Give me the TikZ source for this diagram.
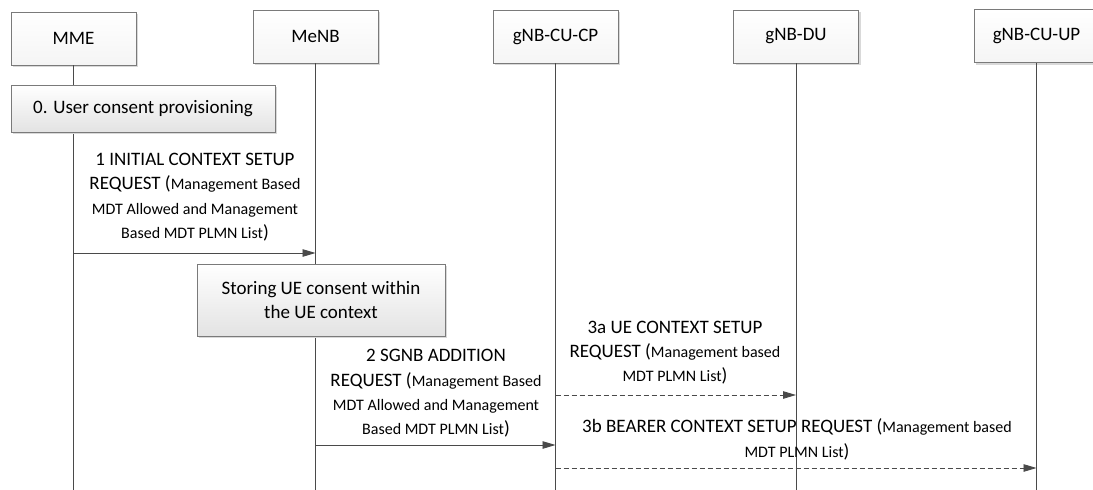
\documentclass[tikz,border=0pt]{standalone}
\usepackage{fontspec}
\setmainfont{Carlito}
\usetikzlibrary{arrows.meta,shadows}
\newcommand\bigf{\fontsize{19}{24.3}\selectfont}
\newcommand\smf{\fontsize{16}{24.3}\selectfont}
\definecolor{ln}{HTML}{4A4A4A}
\definecolor{bd}{HTML}{7A7A7A}
\begin{document}
\begin{tikzpicture}[x=1pt,y=-1pt,
  hdr/.style={draw=bd, line width=0.8pt, top color=white, bottom color=gray!8,
    drop shadow={shadow xshift=2pt,shadow yshift=-2pt,fill=gray!30,opacity=1},
    minimum width=125pt, minimum height=53pt, inner sep=0pt, font=\bigf},
  proc/.style={hdr, bottom color=gray!22},
  life/.style={draw=ln, line width=0.9pt},
  msg/.style={draw=ln, line width=0.9pt, -{Triangle[length=13pt,width=7.5pt]}},
  dmsg/.style={msg, dash pattern=on 5pt off 3pt},
  lbl/.style={align=center, font=\bigf, inner sep=0pt}]
\useasboundingbox (0,0) rectangle (1093,490);
\fill[white] (0,0) rectangle (1093,490);
% headers
\node[hdr] (mme)  at (73.5,38.5) {MME};
\node[hdr] (menb) at (315.5,36.5) {MeNB};
\node[hdr] (cp)   at (555.5,36.5) {gNB-CU-CP};
\node[hdr] (du)   at (796,36.5) {gNB-DU};
\node[hdr] (up)   at (1036.5,36) {gNB-CU-UP};
\coordinate (bot) at (0,490);
% lifelines
\draw[life] (mme.south) -- (mme.south |- bot);
\draw[life] (menb.south) -- (menb.south |- bot);
\draw[life] (cp.south) -- (cp.south |- bot);
\draw[life] (du.south) -- (du.south |- bot);
\draw[life] (up.south) -- (up.south |- bot);
% process boxes
\node[proc, minimum width=264pt, minimum height=47pt] (p0) at (143,108.5) {0. User consent provisioning};
\node[proc, minimum width=248pt, minimum height=72pt, align=center] (p1) at (321,300) {Storing UE consent within\\the UE context};
% message rows
\coordinate (y1) at (0,253);
\coordinate (y2) at (0,445);
\coordinate (y3a) at (0,395);
\coordinate (y3b) at (0,468);
\draw[msg] (mme |- y1) -- (menb |- y1);
\draw[msg] (menb |- y2) -- (cp |- y2);
\draw[dmsg] (cp |- y3a) -- (du |- y3a);
\draw[dmsg] (cp |- y3b) -- (up |- y3b);
% labels
\node[lbl] (t1) at (195,197) {1 INITIAL CONTEXT SETUP\\REQUEST ({\smf Management Based}\\{\smf MDT Allowed and Management}\\{\smf Based MDT PLMN List})};
\node[lbl] (t2) at (436,393.5) {2 SGNB ADDITION\\REQUEST ({\smf Management Based}\\{\smf MDT Allowed and Management}\\{\smf Based MDT PLMN List})};
\node[lbl] (t3a) at (675,352.5) {3a UE CONTEXT SETUP\\REQUEST ({\smf Management based}\\{\smf MDT PLMN List})};
\node[lbl] (t3b) at (797,439.5) {3b BEARER CONTEXT SETUP REQUEST ({\smf Management based}\\{\smf MDT PLMN List})};
\end{tikzpicture}
\end{document}
